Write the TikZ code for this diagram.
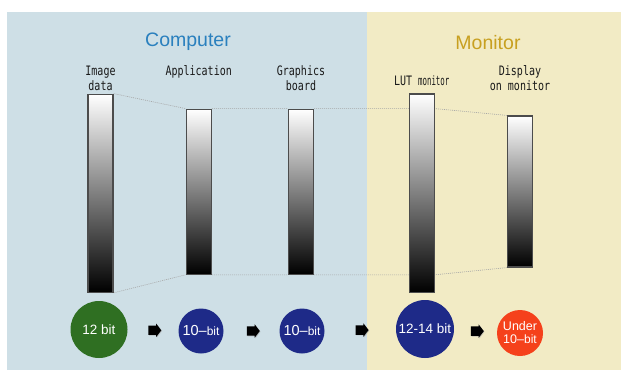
\documentclass[tikz,border=0pt]{standalone}
\usepackage{fontspec}
\setmainfont{Liberation Sans}
\newfontfamily\labelfont[FakeStretch=0.77]{DejaVu Sans Mono}
\newfontfamily\narrowfont[FakeStretch=0.57]{DejaVu Sans Mono}
\usetikzlibrary{shapes.arrows,positioning,shadows}
\pgfdeclarelayer{background}
\pgfdeclarelayer{guides}
\pgfsetlayers{background,guides,main}

\definecolor{computerbg}{HTML}{CEDFE6}
\definecolor{monitorbg}{HTML}{F2EBC5}
\definecolor{computertxt}{HTML}{2A80BE}
\definecolor{monitortxt}{HTML}{C8A020}
\definecolor{depthgreen}{HTML}{2F6F22}
\definecolor{depthblue}{HTML}{1E2A88}
\definecolor{depthred}{HTML}{F5411B}

\newcommand{\smallbit}{{\fontsize{12}{13}\selectfont bit}}

\begin{document}
\begin{tikzpicture}[x=1pt,y=-1pt,
bar/.style={
rectangle,minimum width=25pt,inner sep=0pt, % the gray ramps
line width=1.2pt,draw=black!70,
top color=white,bottom color=black},
depth/.style={circle,inner sep=0pt,text=white,
font=\fontsize{13.5}{14}\selectfont, align=center}]

\tikzset{
  title/.style={font=\fontsize{19.5}{22}\selectfont, anchor=base},
  stage/.style={font=\labelfont\fontsize{13}{14.5}\selectfont, text=black!90,
    align=center, inner sep=0pt, anchor=base},
  guide/.style={black!35, line width=0.6pt, dash pattern=on 1pt off 1pt},
  flow/.style={single arrow, fill=black, inner xsep=0pt, inner ysep=4.5pt,
    minimum height=13pt, single arrow head extend=2pt,
    single arrow tip angle=105, single arrow head indent=0pt,
    drop shadow={shadow xshift=0.7pt, shadow yshift=-0.7pt, fill=black!35, opacity=0.6}}
}

    \useasboundingbox (0,0) rectangle (630,381);
    \begin{pgfonlayer}{background}
    \fill[computerbg] (7,12) rectangle (367,370);
    \fill[monitorbg] (367,12) rectangle (621,370);
    \end{pgfonlayer}

    \node[title,text=computertxt] at (188,46.5) (computer) {Computer};
    \node[title,text=monitortxt] at (488,49.3) (monitor) {Monitor};

    \node[bar,minimum height=198pt] at (100.5,193.2) (bimg) {};
    \node[bar,minimum height=165pt] at (198.7,191.7) (bapp) {};
    \node[bar,minimum height=165pt] at (301,191.7) (bgb) {};
    \node[bar,minimum height=198.5pt] at (421.7,193.3) (blut) {};
    \node[bar,minimum height=151pt] at (520,191.5) (bdisp) {};

    % last baseline of each label
    \coordinate (row) at (0,75.5);
    \coordinate (row2) at (0,90);
    \node[stage] at (bimg |- row2) (limg) {Image\\data};
    \node[stage] at (bapp |- row) (lapp) {Application};
    \node[stage] at (bgb |- row2) (lgb) {Graphics\\board};
    \node[stage] at (421.7,85) (llut) {LUT {\narrowfont monitor}};
    \node[stage] at (bdisp |- row2) (ldisp) {Display\\on monitor};

    \node[depth,fill=depthgreen,minimum size=57pt] at (99,329.5) (c12) {12 bit};
    \node[depth,fill=depthblue,minimum size=45pt,font=\fontsize{14.5}{15}\selectfont] at (201,331) (c10a) {10–\smallbit};
    \node[depth,fill=depthblue,minimum size=45pt,font=\fontsize{14.5}{15}\selectfont] at (302,331) (c10b) {10–\smallbit};
    \node[depth,fill=depthblue,minimum size=58pt] at (425,329) (c1214) {12-14 bit};
    \node[depth,fill=depthred,minimum size=46pt,font=\fontsize{12.5}{13}\selectfont] at (520,333) (cunder) {Under\\10–\smallbit};

    \begin{pgfonlayer}{guides}
    \draw[guide] (bimg.north east) -- (bapp.north west)
        (bapp.north east) -- (bgb.north west)
        (bgb.north east) -- (bgb.north east -| blut.east) -- (bdisp.north west);
    \draw[guide] (bimg.south east) -- (bapp.south west)
        (bapp.south east) -- (bgb.south west)
        (bgb.south east) -- (bgb.south east -| blut.east) -- (bdisp.south west);
    \end{pgfonlayer}

    \path (c12) -- node[flow] {} (c10a)
        (c10a) -- node[flow] {} (c10b)
        (c10b) -- node[flow] {} (c1214)
        (c1214) -- node[flow] {} (cunder);

\end{tikzpicture}
\end{document}
